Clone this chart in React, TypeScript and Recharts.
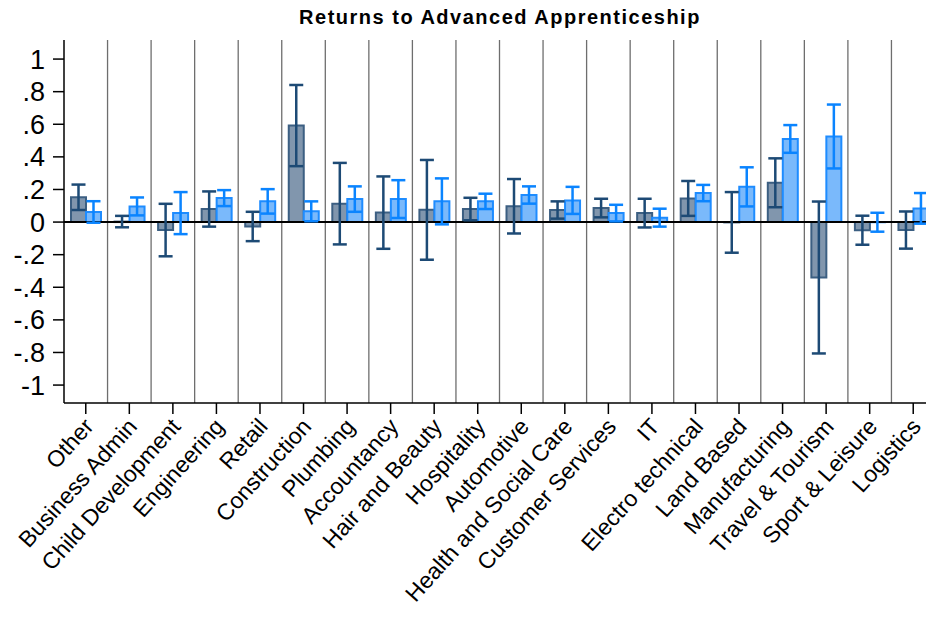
import React from 'react';
import { BarChart, Bar, XAxis, YAxis, ErrorBar, ReferenceLine } from 'recharts';

const FONT = '"Liberation Sans", Arial, Helvetica, sans-serif';

const CATEGORIES = [
  'Other', 'Business Admin', 'Child Development', 'Engineering', 'Retail',
  'Construction', 'Plumbing', 'Accountancy', 'Hair and Beauty', 'Hospitality',
  'Automotive', 'Health and Social Care', 'Customer Services', 'IT', 'Electro technical',
  'Land Based', 'Manufacturing', 'Travel & Tourism', 'Sport & Leisure', 'Logistics',
];

// point estimates and half-width of the confidence interval, per sector
const GROUP_A = [0.152, 0.003, -0.049, 0.08, -0.027, 0.592, 0.113, 0.058, 0.075, 0.08, 0.097, 0.074, 0.086, 0.055, 0.145, -0.002, 0.241, -0.34, -0.05, -0.049];
const GROUP_A_CI = [0.078, 0.035, 0.161, 0.108, 0.09, 0.249, 0.25, 0.222, 0.306, 0.069, 0.167, 0.053, 0.057, 0.088, 0.107, 0.186, 0.15, 0.466, 0.089, 0.114];
const GROUP_B = [0.062, 0.096, 0.055, 0.147, 0.127, 0.066, 0.141, 0.141, 0.127, 0.127, 0.166, 0.133, 0.055, 0.027, 0.178, 0.216, 0.51, 0.525, -0.001, 0.084];
const GROUP_B_CI = [0.066, 0.055, 0.129, 0.049, 0.075, 0.061, 0.078, 0.116, 0.141, 0.047, 0.053, 0.083, 0.051, 0.055, 0.05, 0.12, 0.085, 0.196, 0.058, 0.094];

const Y_TICKS = [-1, -0.8, -0.6, -0.4, -0.2, 0, 0.2, 0.4, 0.6, 0.8, 1];

const data = CATEGORIES.map((name, i) => ({
  name,
  a: GROUP_A[i],
  aCi: GROUP_A_CI[i],
  b: GROUP_B[i],
  bCi: GROUP_B_CI[i],
}));

// Stata-style labels: no leading zero
const fmtY = (v: number) => {
  if (v === 0) return '0';
  const s = String(Math.round(v * 10) / 10);
  return s.replace(/^(-?)0\./, '$1.');
};

const RotatedTick = (props: any) => {
  const { x, y, payload } = props;
  return (
    <text
      transform={`translate(${x + 3},${y + 4}) rotate(-48)`}
      textAnchor="end"
      dy="0.35em"
      fontSize={23}
      fontFamily={FONT}
      fill="#000"
    >
      {payload.value}
    </text>
  );
};

export default function App() {
  return (
    <div style={{ position: 'fixed', left: 0, top: 0, width: 926, height: 617, overflow: 'hidden', background: '#fff' }}>
      <div
        style={{
          position: 'absolute',
          left: 0,
          width: 1000,
          top: 6,
          textAlign: 'center',
          fontFamily: FONT,
          fontWeight: 'bold',
          fontSize: 20,
          letterSpacing: 1.5,
          color: '#000',
        }}
      >
        Returns to Advanced Apprenticeship
      </div>
      <BarChart
        width={940}
        height={617}
        data={data}
        margin={{ top: 40, right: 5, bottom: 0, left: 0 }}
        barSize={15}
        barGap={0}
      >
        <XAxis
          dataKey="name"
          interval={0}
          height={214}
          tick={<RotatedTick />}
          tickSize={11}
          tickMargin={4}
          axisLine={{ stroke: '#000', strokeWidth: 1.5 }}
          tickLine={{ stroke: '#000', strokeWidth: 1.5 }}
        />
        <YAxis
          width={64}
          domain={[-1.11, 1.117]}
          allowDataOverflow
          ticks={Y_TICKS}
          tickFormatter={fmtY}
          interval={0}
          tickSize={11}
          tickMargin={8}
          tick={{ fontSize: 27, fontFamily: FONT, fill: '#000' }}
          axisLine={{ stroke: '#000', strokeWidth: 1.5 }}
          tickLine={{ stroke: '#000', strokeWidth: 1.5 }}
        />
        {/* thin separators at the start of every band after the first */}
        {CATEGORIES.slice(1).map((c) => (
          <ReferenceLine key={c} x={c} position="start" stroke="#6e6e6e" strokeWidth={1.3} />
        ))}
        <ReferenceLine y={0} stroke="#000" strokeWidth={2} />
        <Bar dataKey="a" fill="#8196ad" stroke="#3c5f82" strokeWidth={2} isAnimationActive={false}>
          <ErrorBar dataKey="aCi" width={7} stroke="#1d4a75" strokeWidth={2.5} isAnimationActive={false} />
        </Bar>
        <Bar dataKey="b" fill="#7ab9fb" stroke="#1e8cff" strokeWidth={2} isAnimationActive={false}>
          <ErrorBar dataKey="bCi" width={7} stroke="#0a84ff" strokeWidth={2.5} isAnimationActive={false} />
        </Bar>
      </BarChart>
    </div>
  );
}
